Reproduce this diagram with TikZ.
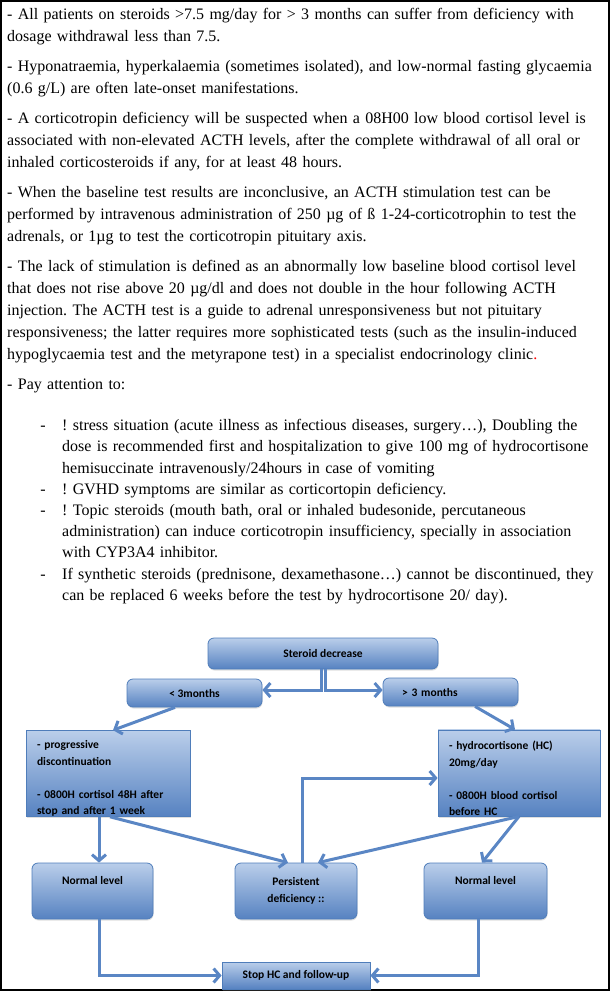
\documentclass[tikz,border=0pt]{standalone}
\usepackage{fontspec}
\setmainfont{Liberation Serif}
\newfontfamily\smartfont{Carlito}
\usepackage{tikz}
\usetikzlibrary{arrows.meta}
\usetikzlibrary{shadows}

\definecolor{boxtop}{RGB}{186,206,234}
\definecolor{boxbottom}{RGB}{86,130,193}
\definecolor{boxedge}{RGB}{79,125,186}
\definecolor{linkblue}{RGB}{90,134,196}

\begin{document}
\begin{tikzpicture}[>={Straight Barb[length=6pt,width=14pt]}, x=1pt, y=-1pt]
	\tikzstyle{notes} = [anchor=north west, inner sep=0pt, text width=598pt, font=\fontsize{16}{22}\selectfont]
	\tikzstyle{smart} = [draw=boxedge, thick, top color=boxtop, bottom color=boxbottom, inner sep=0pt, font=\smartfont\bfseries\fontsize{11.5}{16.5}\selectfont, drop shadow={shadow xshift=0.5pt, shadow yshift=-1.5pt, opacity=0.25}]
	\tikzstyle{pill} = [smart, rounded corners=6pt, align=center]
	\tikzstyle{panel} = [smart, align=left, inner xsep=11pt]
	\tikzstyle{link} = [->, draw=linkblue, line width=3pt]
	\tikzstyle{elbow} = [link, to path={|- (\tikztotarget)}]

	\useasboundingbox (0,0) rectangle (611,993);
	\draw[line width=1.2pt] (1,1) rectangle (609,990);

	\node[notes] (notes) at (7,8) {\frenchspacing\setlength{\parindent}{0pt}\setlength{\parskip}{8pt}%
		- All patients on steroids >7.5 mg/day for > 3 months can suffer from deficiency with\\
		dosage withdrawal less than 7.5.\par
		- Hyponatraemia, hyperkalaemia (sometimes isolated), and low-normal fasting glycaemia\\
		(0.6 g/L) are often late-onset manifestations.\par
		- A corticotropin deficiency will be suspected when a 08H00 low blood cortisol level is\\
		associated with non-elevated ACTH levels, after the complete withdrawal of all oral or\\
		inhaled corticosteroids if any, for at least 48 hours.\par
		- When the baseline test results are inconclusive, an ACTH stimulation test can be\\
		performed by intravenous administration of 250 µg of ß 1-24-corticotrophin to test the\\
		adrenals, or 1µg to test the corticotropin pituitary axis.\par
		- The lack of stimulation is defined as an abnormally low baseline blood cortisol level\\
		that does not rise above 20 µg/dl and does not double in the hour following ACTH\\
		injection. The ACTH test is a guide to adrenal unresponsiveness but not pituitary\\
		responsiveness; the latter requires more sophisticated tests (such as the insulin-induced\\
		hypoglycaemia test and the metyrapone test) in a specialist endocrinology clinic\textcolor{red}{.}\par
		- Pay attention to:\par
		\vspace{20pt}
		{\fontsize{16}{21.2}\selectfont\setlength{\parskip}{0pt}\leftskip=55pt\rightskip=0pt
		\noindent\llap{-\hspace{16.6pt}}! stress situation (acute illness as infectious diseases, surgery…), Doubling the\linebreak
		dose is recommended first and hospitalization to give 100 mg of hydrocortisone\linebreak
		hemisuccinate intravenously/24hours in case of vomiting\par
		\noindent\llap{-\hspace{16.6pt}}! GVHD symptoms are similar as corticortopin deficiency.\par
		\noindent\llap{-\hspace{16.6pt}}! Topic steroids (mouth bath, oral or inhaled budesonide, percutaneous\linebreak
		administration) can induce corticotropin insufficiency, specially in association\linebreak
		with CYP3A4 inhibitor.\par
		\noindent\llap{-\hspace{16.6pt}}If synthetic steroids (prednisone, dexamethasone…) cannot be discontinued, they\linebreak
		can be replaced 6 weeks before the test by hydrocortisone 20/ day).\par}
	};

	\path
	node[pill, minimum width=230pt, minimum height=31pt] (steroid) at (323,653.5) {Steroid decrease}
	node[pill, minimum width=135pt, minimum height=28pt] (lt3) at (194.5,693) {< 3months}
	node[pill, minimum height=28pt, text width=97pt, align=left, inner xsep=19pt] (gt3) at (450.5,692) {> 3 months}
	node[panel, text width=142pt, minimum height=85pt] (lbox) at (108,773.5) {\rule{0pt}{18pt}- progressive\\discontinuation\\[16.5pt]- 0800H cortisol 48H after\\stop and after 1 week}
	node[panel, text width=140pt, minimum height=86pt] (rbox) at (519,773) {\rule{0pt}{20pt}- hydrocortisone (HC)\\20mg/day\\[16.5pt]- 0800H blood cortisol\\before HC}
	node[pill, minimum width=121pt, minimum height=56pt] (nleft) at (92.5,891) {Normal level\\\strut}
	node[pill, minimum width=122pt, minimum height=56pt] (pers) at (296,891) {Persistent\\deficiency ::}
	node[pill, minimum width=123pt, minimum height=56pt] (nright) at (485.5,891) {Normal level\\\strut}
	node[smart, minimum width=148pt, minimum height=27pt] (stop) at (296,975.5) {Stop HC and follow-up}

	([xshift=-2pt]steroid.south) edge[elbow] ([yshift=3pt]lt3.east)
	([xshift=2pt]steroid.south) edge[elbow] ([yshift=2pt]gt3.west)
	([xshift=-19.5pt]lt3.south) edge[link] ([xshift=5pt]lbox.north)
	([xshift=24.5pt]gt3.south) edge[link] ([xshift=-4pt]rbox.north)
	([xshift=-9pt]lbox.south) edge[link] ([xshift=6.5pt]nleft.north)
	([xshift=2pt]lbox.south) edge[link] ([xshift=-8pt]pers.north)
	(rbox.south) edge[link] ([xshift=22pt]pers.north)
	(rbox.south) edge[link] ([xshift=-3.5pt]nright.north)
	([xshift=6pt]pers.north) edge[elbow] ([yshift=-5pt]rbox.west)
	([xshift=6.5pt]nleft.south) edge[elbow] (stop.west)
	([xshift=-7.5pt]nright.south) edge[elbow] (stop.east)
	;
\end{tikzpicture}
\end{document}
